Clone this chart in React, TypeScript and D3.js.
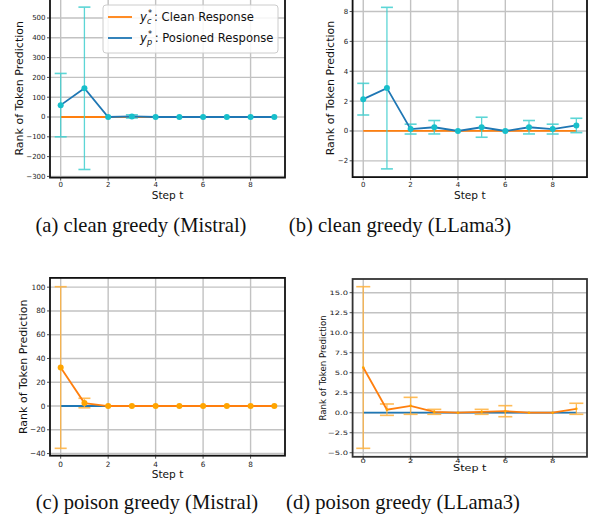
import React from "react";
import * as d3 from "d3";

const steps = [0, 1, 2, 3, 4, 5, 6, 7, 8, 9];
const zeros = [0, 0, 0, 0, 0, 0, 0, 0, 0, 0];

const aPoisonMean = [60, 145, 0, 3, 0, 0, 0, 0, 0, 0];
const aPoisonStd = [160, 410, 0, 8, 0, 0, 0, 0, 0, 0];
const bPoisonMean = [2.13, 2.87, 0.125, 0.25, 0, 0.25, 0, 0.25, 0.125, 0.37];
const bPoisonStd = [1.06, 5.41, 0.33, 0.45, 0, 0.67, 0, 0.45, 0.33, 0.48];
const cPoisonMean = [32.4, 2.5, 0, 0, 0, 0, 0, 0, 0, 0];
const cPoisonStd = [68, 4, 0, 0, 0, 0, 0, 0, 0, 0];
const dPoisonMean = [5.65, 0.38, 0.86, 0.11, 0, 0.11, 0.19, 0, 0, 0.49];
const dPoisonStd = [10.1, 0.71, 1.06, 0.31, 0, 0.31, 0.69, 0, 0, 0.69];

const xTicks = [0, 2, 4, 6, 8];
const aYTicks = [-300, -200, -100, 0, 100, 200, 300, 400, 500];
const bYTicks = [-2, 0, 2, 4, 6, 8];
const cYTicks = [-40, -20, 0, 20, 40, 60, 80, 100];
const dYTicks = [-5, -2.5, 0, 2.5, 5, 7.5, 10, 12.5, 15];

const captions = [
  "(a) clean greedy (Mistral)",
  "(b) clean greedy (LLama3)",
  "(c) poison greedy (Mistral)",
  "(d) poison greedy (LLama3)",
];

const BLUE = "#1f77b4";
const ORANGE = "#ff7f0e";
const CYAN_ERR = "#40cfcf";
const CYAN_MK = "#17bfcb";
const OR_ERR = "#ffb13b";
const OR_MK = "#ffa500";
const FONT = "'DejaVu Sans', sans-serif";
const SERIF = "'Liberation Serif', 'Times New Roman', serif";

type PanelProps = {
  xRange: [number, number];
  yDomain: [number, number];
  yRange: [number, number];
  yTicks: number[];
  fmt: (v: number) => string;
  cleanColor: string;
  poisonColor: string;
  errColor: string;
  mkColor: string;
  mkR: number;
  capW: number;
  mean: number[];
  std: number[];
  tickFont: number;
  labelFont: number;
  ylabelFont: number;
  ylabelX: number;
  xlabelY: number;
  xtickY: number;
  stretch?: number;
  spine: string;
};

const fmtInt = (v: number) => (v < 0 ? "\u2212" + Math.abs(v) : String(v));
const fmt1 = (v: number) => (v < 0 ? "\u2212" + Math.abs(v).toFixed(1) : v.toFixed(1));

function Panel(p: PanelProps) {
  const x = d3.scaleLinear().domain([-0.45, 9.45]).range(p.xRange);
  const y = d3.scaleLinear().domain(p.yDomain).range(p.yRange);
  const [x0, x1] = p.xRange;
  const yb = p.yRange[0];
  const yt = p.yRange[1];
  const line = d3
    .line<number>()
    .x((_, i) => x(steps[i]))
    .y((v) => y(v));
  const s = p.stretch ?? 1;
  const stretchText = (cx: number, cy: number) =>
    s === 1 ? undefined : `translate(${cx},${cy}) scale(${s},1) translate(${-cx},${-cy})`;
  const yc = (yb + yt) / 2;
  return (
    <g>
      <rect x={x0} y={yt} width={x1 - x0} height={yb - yt} fill="white" />
      {xTicks.map((t) => (
        <line key={"gx" + t} x1={x(t)} x2={x(t)} y1={yt} y2={yb} stroke="#c2c2c2" strokeWidth={1.4} />
      ))}
      {p.yTicks.map((t) => (
        <line key={"gy" + t} x1={x0} x2={x1} y1={y(t)} y2={y(t)} stroke="#c2c2c2" strokeWidth={1.4} />
      ))}
      <path d={line(zeros) || ""} fill="none" stroke={p.cleanColor} strokeWidth={1.8} />
      {p.mean.map((m, i) => {
        const sd = p.std[i];
        if (sd <= 0) return null;
        const cx = x(steps[i]);
        return (
          <g key={"e" + i} stroke={p.errColor} strokeWidth={1.3} opacity={0.85}>
            <line x1={cx} x2={cx} y1={y(m - sd)} y2={y(m + sd)} />
            <line x1={cx - p.capW} x2={cx + p.capW} y1={y(m - sd)} y2={y(m - sd)} strokeWidth={1.6} />
            <line x1={cx - p.capW} x2={cx + p.capW} y1={y(m + sd)} y2={y(m + sd)} strokeWidth={1.6} />
          </g>
        );
      })}
      <path d={line(p.mean) || ""} fill="none" stroke={p.poisonColor} strokeWidth={1.8} />
      {p.mkR > 0 &&
        p.mean.map((m, i) => (
          <circle key={"m" + i} cx={x(steps[i])} cy={y(m)} r={p.mkR} fill={p.mkColor} />
        ))}
      <rect x={x0} y={yt} width={x1 - x0} height={yb - yt} fill="none" stroke={p.spine} strokeWidth={1.8} />
      {xTicks.map((t) => (
        <g key={"tx" + t}>
          <line x1={x(t)} x2={x(t)} y1={yb} y2={yb + 3} stroke="#222" strokeWidth={0.8} />
          <text
            x={x(t)}
            y={p.xtickY}
            textAnchor="middle"
            fontSize={p.tickFont}
            fontFamily={FONT}
            fill="#222"
            transform={stretchText(x(t), p.xtickY)}
          >
            {fmtInt(t)}
          </text>
        </g>
      ))}
      {p.yTicks.map((t) => (
        <g key={"ty" + t}>
          <line x1={x0 - 3} x2={x0} y1={y(t)} y2={y(t)} stroke="#222" strokeWidth={0.8} />
          <text
            x={x0 - 4.5}
            y={y(t)}
            dy="0.35em"
            textAnchor="end"
            fontSize={p.tickFont}
            fontFamily={FONT}
            fill="#222"
            transform={stretchText(x0 - 4.5, y(t))}
          >
            {p.fmt(t)}
          </text>
        </g>
      ))}
      <text
        x={(x0 + x1) / 2}
        y={p.xlabelY}
        textAnchor="middle"
        fontSize={p.labelFont}
        fontFamily={FONT}
        fill="#111"
        transform={stretchText((x0 + x1) / 2, p.xlabelY)}
      >
        Step t
      </text>
      <text
        transform={`translate(${p.ylabelX},${yc}) rotate(-90)`}
        textAnchor="middle"
        fontSize={p.ylabelFont}
        fontFamily={FONT}
        fill="#111"
      >
        Rank of Token Prediction
      </text>
    </g>
  );
}

function LegendLabel({ x, y, sub, text }: { x: number; y: number; sub: string; text: string }) {
  return (
    <text x={x} y={y} fontSize={11.6} fontFamily={FONT} fill="#111">
      <tspan fontStyle="italic">y</tspan>
      <tspan fontSize={8.2} dy={-5.5} dx={1}>*</tspan>
      <tspan fontSize={8.2} fontStyle="italic" dy={8.5} dx={-5}>{sub}</tspan>
      <tspan dy={-3} dx={2.5}>{text}</tspan>
    </text>
  );
}

export default function App() {
  return (
    <svg
      width={612}
      height={526}
      style={{ position: "absolute", left: 0, top: 0, background: "white" }}
    >
      <rect width={612} height={526} fill="white" />
      <Panel
        xRange={[50, 285]}
        yDomain={[-306, 596]}
        yRange={[177.6, -1]}
        yTicks={aYTicks}
        fmt={fmtInt}
        cleanColor={ORANGE}
        poisonColor={BLUE}
        errColor={CYAN_ERR}
        mkColor={CYAN_MK}
        mkR={3}
        capW={6}
        mean={aPoisonMean}
        std={aPoisonStd}
        tickFont={7}
        labelFont={10.6}
        ylabelFont={11}
        ylabelX={22.5}
        xlabelY={199}
        xtickY={187}
        spine="#111"
      />
      <Panel
        xRange={[352.6, 587]}
        yDomain={[-3.09, 8.84]}
        yRange={[177.1, -1]}
        yTicks={bYTicks}
        fmt={fmtInt}
        cleanColor={ORANGE}
        poisonColor={BLUE}
        errColor={CYAN_ERR}
        mkColor={CYAN_MK}
        mkR={3}
        capW={6}
        mean={bPoisonMean}
        std={bPoisonStd}
        tickFont={7}
        labelFont={10.6}
        ylabelFont={11}
        ylabelX={334}
        xlabelY={199}
        xtickY={187}
        spine="#111"
      />
      <Panel
        xRange={[50, 285]}
        yDomain={[-41.8, 107.8]}
        yRange={[455.7, 277.9]}
        yTicks={cYTicks}
        fmt={fmtInt}
        cleanColor={BLUE}
        poisonColor={ORANGE}
        errColor={OR_ERR}
        mkColor={OR_MK}
        mkR={3}
        capW={6}
        mean={cPoisonMean}
        std={cPoisonStd}
        tickFont={7.3}
        labelFont={10.6}
        ylabelFont={11}
        ylabelX={26.5}
        xlabelY={478}
        xtickY={467}
        spine="#111"
      />
      <Panel
        xRange={[352.6, 587]}
        yDomain={[-5.51, 16.71]}
        yRange={[456.8, 279]}
        yTicks={dYTicks}
        fmt={fmt1}
        cleanColor={BLUE}
        poisonColor={ORANGE}
        errColor={OR_ERR}
        mkColor={OR_MK}
        mkR={1.3}
        capW={7}
        mean={dPoisonMean}
        std={dPoisonStd}
        tickFont={6}
        labelFont={8}
        ylabelFont={8.6}
        ylabelX={326}
        xlabelY={471.5}
        xtickY={463}
        stretch={1.4}
        spine="#333"
      />
      {/* crop strip below bottom panels */}
      <rect x={0} y={480} width={612} height={10} fill="white" />
      {/* legend */}
      <g>
        <rect x={103} y={5} width={175} height={48} rx={3} fill="white" fillOpacity={0.85} stroke="#cccccc" strokeWidth={1} />
        <line x1={108} x2={132} y1={17} y2={17} stroke={ORANGE} strokeWidth={1.8} />
        <line x1={108} x2={132} y1={38} y2={38} stroke={BLUE} strokeWidth={1.8} />
        <LegendLabel x={140} y={21} sub="c" text=": Clean Response" />
        <LegendLabel x={140} y={42} sub="p" text=": Posioned Response" />
      </g>
      {/* captions */}
      <text x={141} y={232} textAnchor="middle" fontSize={20.6} fontFamily={SERIF} fill="#111">
        {captions[0]}
      </text>
      <text x={400} y={232} textAnchor="middle" fontSize={20.6} fontFamily={SERIF} fill="#111">
        {captions[1]}
      </text>
      <text x={147} y={509} textAnchor="middle" fontSize={20.6} fontFamily={SERIF} fill="#111">
        {captions[2]}
      </text>
      <text x={403} y={509} textAnchor="middle" fontSize={20.6} fontFamily={SERIF} fill="#111">
        {captions[3]}
      </text>
    </svg>
  );
}
